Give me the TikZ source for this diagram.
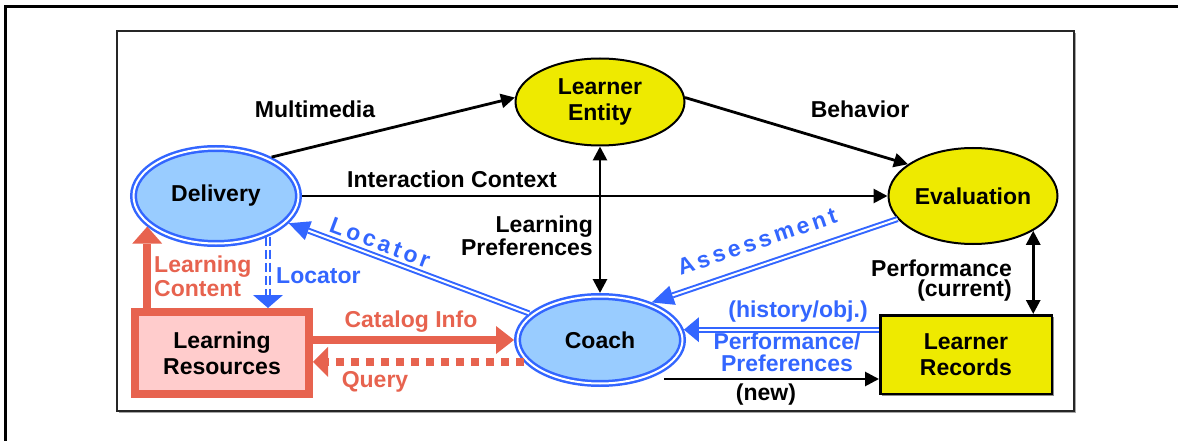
\documentclass[tikz,border=0pt]{standalone}
\usepackage{fontspec}
\setmainfont{Liberation Sans}
\usetikzlibrary{arrows.meta,calc,shapes.geometric,shadows}
\definecolor{myblue}{RGB}{51,102,255}
\definecolor{lblue}{RGB}{153,204,255}
\definecolor{yel}{RGB}{238,234,0}
\definecolor{coral}{RGB}{231,99,79}
\definecolor{pinkfill}{RGB}{255,204,204}
\newcommand\lblfont[1]{\fontsize{23}{#1}\selectfont\bfseries}
\begin{document}
\begin{tikzpicture}[x=1pt,y=-1pt,
  font=\fontsize{23}{26}\selectfont\bfseries,
  ell/.style={ellipse, draw=black, line width=2pt, fill=yel, inner sep=0pt, align=center},
  dell/.style={ellipse, draw=myblue, double=white, line width=2.5pt, double distance=2pt,
               fill=lblue, inner sep=0pt, outer sep=3.5pt, align=center},
  lbl/.style={inner sep=0pt},
  blk/.style={draw=black, line width=2.8pt, -{Triangle[length=14pt,width=14pt]}},
  blk2/.style={draw=black, line width=2.8pt, {Triangle[length=14pt,width=14pt]}-{Triangle[length=14pt,width=14pt]}},
  % blue double line whose white core stops before a tip at the start
  dblS/.style={draw=myblue, line width=6pt,
     postaction={draw=white, line width=2pt, arrows=-, shorten <=#1}},
  % blue double line whose white core stops before a tip at the end
  dblE/.style={draw=myblue, line width=6pt,
     postaction={draw=white, line width=2pt, arrows=-, shorten >=#1}},
  btip/.style n args={2}{Triangle[length=#1,width=#2,line width=0pt]},
  crl/.style={draw=coral, line width=8pt},
  spaced/.style={font=\fontsize{23}{26}\selectfont\bfseries\addfontfeatures{LetterSpace=15}}
]
\useasboundingbox (0,0) rectangle (1178,441);
% frames
\draw[line width=3.3pt] (5.7,441) -- (5.7,6.7) -- (1178,6.7);
\draw[gray!70, line width=1.2pt] (119,412.8) -- (1075.8,412.8) -- (1075.8,33);
\draw[line width=2pt, black!85] (117,31) rectangle (1074,411);

% nodes
\node[ell, minimum width=169pt, minimum height=87pt] (entity) at (600,102) {Learner\\Entity};
\node[ell, minimum width=169pt, minimum height=96pt] (evaluation) at (973,196) {Evaluation};
\node[dell, minimum width=165pt, minimum height=95pt] (delivery) at (216,196) {Delivery};
\node[dell, minimum width=165pt, minimum height=87pt] (coach) at (600,340) {Coach};
\node[draw=coral, line width=8pt, fill=pinkfill, minimum width=174pt, minimum height=82pt,
      inner sep=0pt, align=center] (resources) at (222,353) {Learning\\Resources};
\node[draw=black, line width=2.5pt, fill=yel, minimum width=171.5pt, minimum height=78.5pt,
      inner sep=0pt, align=center,
      drop shadow={shadow xshift=2pt, shadow yshift=-2pt, fill=black!45, opacity=1}]
      (records) at (966,354.5) {Learner\\Records};

% black connectors
\draw[blk] (delivery.35) -- (entity.177);
\draw[blk] (entity.3) -- (evaluation.154.5);
\draw[blk] (delivery.east) -- (delivery.east -| evaluation.west);
\draw[blk2] (entity.south) -- (coach.north);
\draw[blk2] (evaluation.-30.7) -- (evaluation.-30.7 |- records.north);
\draw[blk] ($(coach.east)+(-22,39)$) coordinate (n0) -- (n0 -| records.west);

% blue connectors
\draw[dblS=21pt, arrows={{Triangle[length=21pt,width=20pt,line width=0pt]}-}] (delivery) -- (coach)
  node[spaced, lbl, text=myblue, pos=0.36, sloped, above=3pt] (loclbl) {Locator};
\draw[dblS=22pt, arrows={{Triangle[length=22pt,width=20pt,line width=0pt]}-}] (coach.36.5) -- (evaluation.197)
  node[spaced, lbl, text=myblue, pos=0.46, sloped, above=13pt] (asslbl) {Assessment};
\draw[dblE=15pt, arrows={-{Triangle[length=15pt,width=25pt,line width=0pt]}}] (coach.7.5 -| records.west) -- (coach.7.5);
\draw[dblE=13pt, dash pattern=on 9pt off 4pt, arrows={-{Triangle[length=13pt,width=30pt,line width=0pt]}}]
  (delivery.-38.8) -- (delivery.-38.8 |- resources.north);

% coral connectors
\draw[crl, -{Triangle[length=17pt,width=30pt,line width=0pt]}] (delivery.204 |- resources.north) -- (delivery.204);
\draw[crl, -{Triangle[length=18pt,width=28pt,line width=0pt]}] (coach.west -| resources.east) -- (coach.west);
\draw[crl, dash pattern=on 8pt off 7pt, -{Triangle[length=15pt,width=30pt,line width=0pt]}]
  (coach.196) -- (coach.196 -| resources.east);

% labels
\node[lbl, anchor=base] (l1) at (315,118) {Multimedia};
\node[lbl, anchor=base] (l2) at (860,118) {Behavior};
\node[lbl, anchor=base] (l3) at (452,187) {Interaction Context};
\node[lbl, anchor=east, align=right, font=\lblfont{21}] (l4) at (593,236) {Learning\\Preferences};
\node[lbl, anchor=east, align=right, font=\lblfont{20}] (l5) at (1012,281) {Performance\\(current)};
\node[lbl, anchor=base] (l6) at (766,400) {(new)};
\node[lbl, anchor=west, align=left, text=coral, font=\lblfont{24}] (l7) at (154,276) {Learning\\Content};
\node[lbl, anchor=west, text=myblue] (l8) at (276,276) {Locator};
\node[lbl, anchor=base, text=coral] (l9) at (411,327) {Catalog Info};
\node[lbl, anchor=base, text=coral] (l10) at (375,387) {Query};
\node[lbl, anchor=base, text=myblue] (l11) at (798,317) {(history/obj.)};
\node[lbl, align=center, text=myblue, font=\lblfont{22}] (l12) at (787,352.5) {Performance/\\Preferences};
\end{tikzpicture}
\end{document}
